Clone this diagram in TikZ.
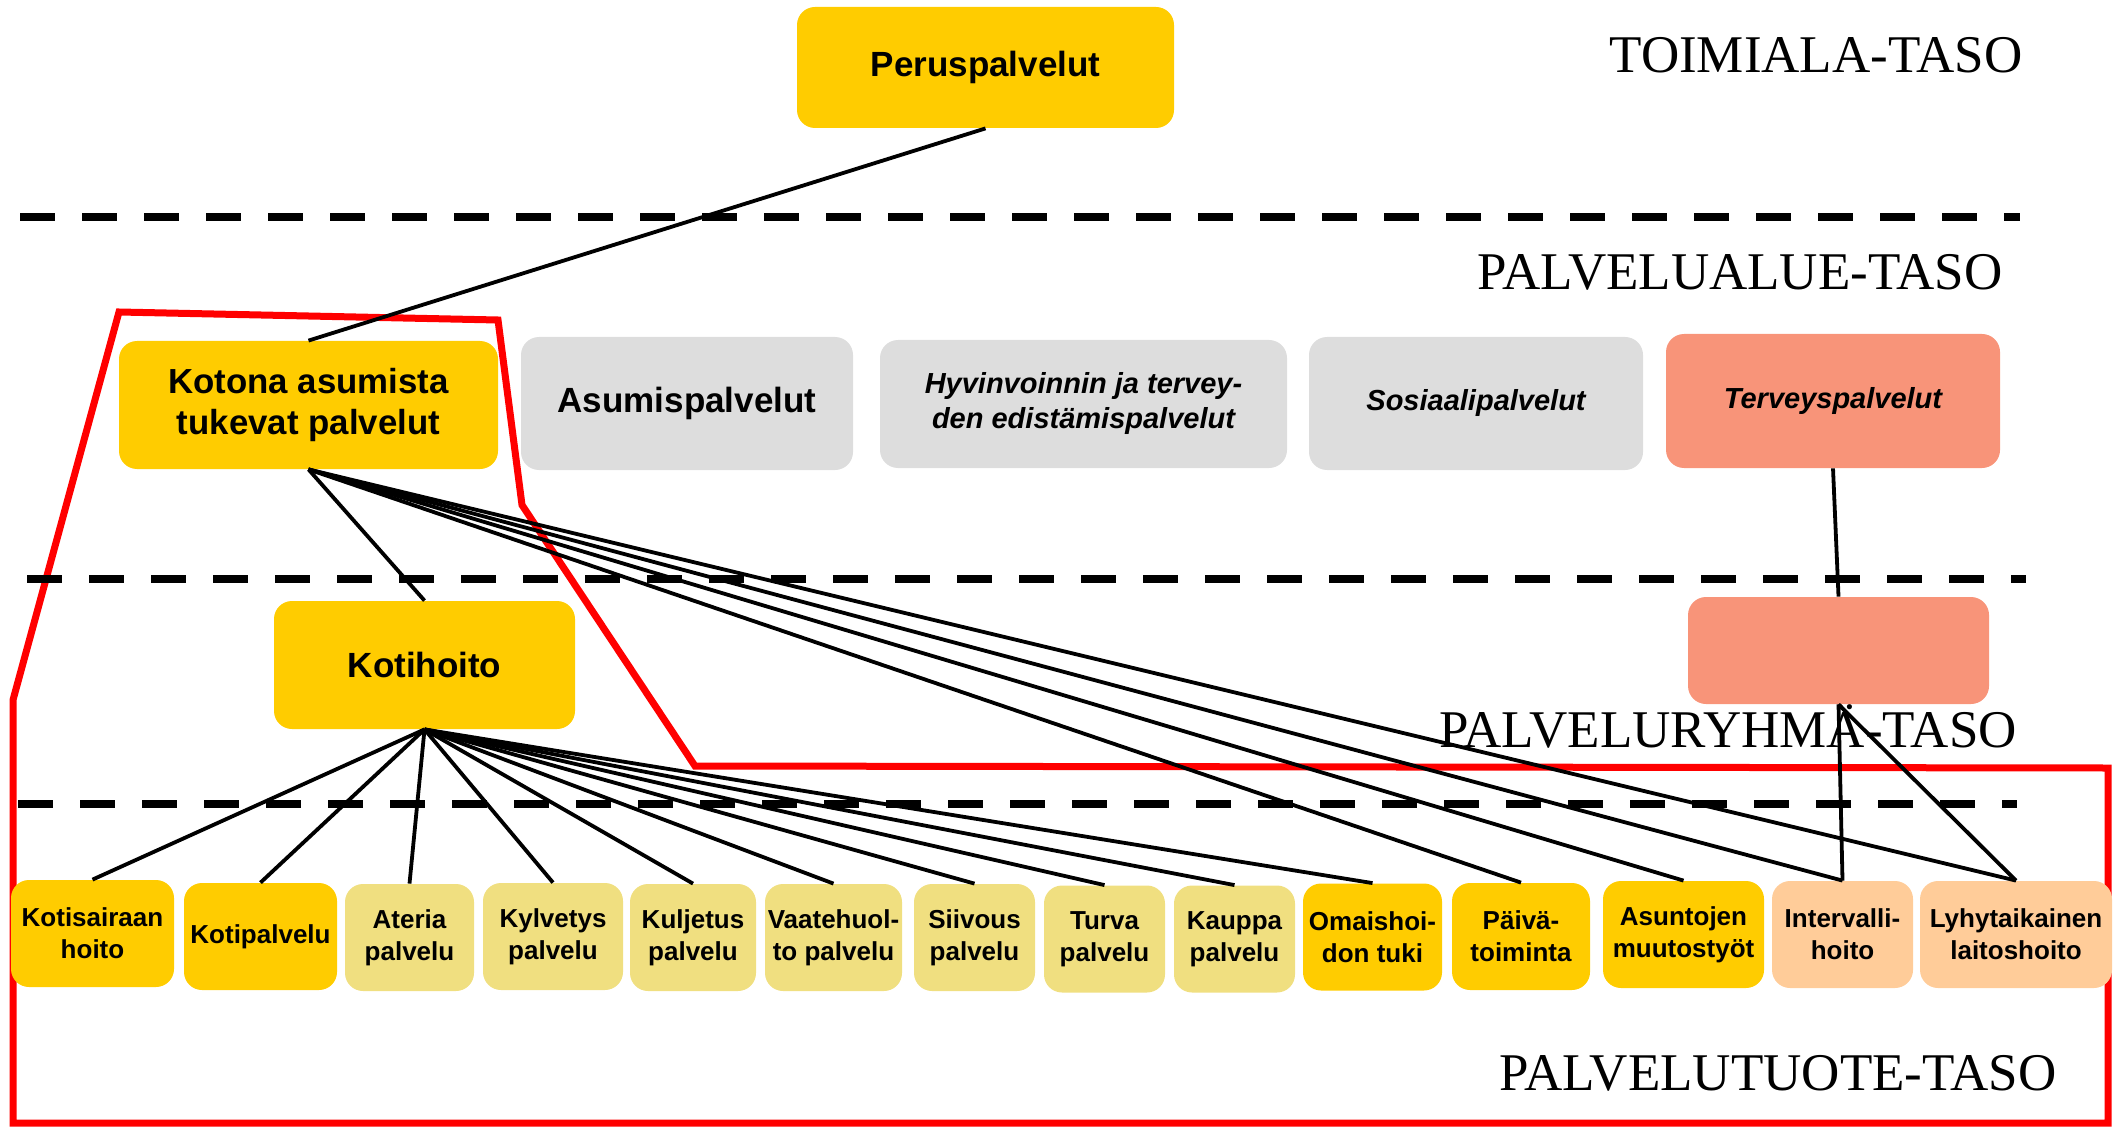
\documentclass[tikz,border=0pt]{standalone}
\usepackage{fontspec}
\setmainfont{Liberation Serif}
\newfontfamily\arialf{Liberation Sans}
\definecolor{gold}{HTML}{FFCC00}
\definecolor{khaki}{HTML}{F0DF80}
\definecolor{greybox}{HTML}{DDDDDD}
\definecolor{salmon}{HTML}{F89479}
\definecolor{peach}{HTML}{FFCC99}
\definecolor{redline}{HTML}{FF0000}
\begin{document}
\begin{tikzpicture}[x=0.5pt,y=-0.5pt,
  box/.style={draw=none, rounded corners=9pt, align=center, inner sep=0pt},
  sz/.style 2 args={minimum width=#1, minimum height=#2},
  bigbold/.style={box, font=\arialf\bfseries\fontsize{17.5pt}{20pt}\selectfont},
  midbold/.style={box, font=\arialf\bfseries\fontsize{17.4pt}{20.5pt}\selectfont},
  italbold/.style={box, font=\arialf\bfseries\itshape\fontsize{14.5pt}{17.5pt}\selectfont},
  small/.style={box, minimum height=53.5pt, font=\arialf\bfseries\fontsize{13pt}{16pt}\selectfont},
  level/.style={anchor=base, font=\fontsize{26.5pt}{31pt}\selectfont},
  conn/.style={draw=black, line width=1.9pt},
  sep/.style={draw=black, line width=4pt, dash pattern=on 17.5pt off 13.5pt},
  region/.style={draw=redline, line width=3.5pt, line join=miter}
]
\useasboundingbox (0,0) rectangle (2128,1128);

% level labels
\node[level] (l1) at (1816,73) {TOIMIALA-TASO};
\node[level] (l2) at (1740,290) {PALVELUALUE-TASO};
\node[level] (l3) at (1728,747) {PALVELURYHMÄ-TASO};
\node[level] (l4) at (1778,1090) {PALVELUTUOTE-TASO};

% red region
\draw[region] (119,312) -- (498,320) -- (522,505) -- (695,766) -- (2108,768)
  -- (2108,1123) -- (13,1123) -- (13,700) -- cycle;

% separators
\draw[sep] (20,217) -- (2020,217);
\draw[sep] (27,579) -- (2026,579);
\draw[sep] (18,804) -- (2017,804);

% top levels
\node[bigbold, fill=gold, sz={188.5pt}{60.5pt}] (peru) at (985.5,67.5) {Peruspalvelut};
\node[midbold, fill=gold, sz={189.5pt}{64pt}] (kotona) at (308.5,405) {Kotona asumista\\tukevat palvelut};
\node[bigbold, fill=greybox, sz={166pt}{66.5pt}] (asumis) at (687,403.5) {Asumispalvelut};
\node[italbold, fill=greybox, sz={203.5pt}{64pt}] (hyvin) at (1083.5,404) {Hyvinvoinnin ja tervey-\\den edistämispalvelut};
\node[italbold, fill=greybox, sz={167pt}{66.5pt}] (sosiaali) at (1476,403.5) {Sosiaalipalvelut};
\node[italbold, fill=salmon, sz={167pt}{67pt}] (terveys) at (1833,401) {Terveyspalvelut};
\node[bigbold, fill=gold, sz={150.5pt}{64pt}] (kotihoito) at (424.5,665) {Kotihoito};
\node[box, fill=salmon, sz={150.5pt}{53.5pt}] (ryhma) at (1838.5,650.5) {};

% bottom products
\node[small, fill=gold, minimum width=81.5pt] (kotisair) at (92.5,933.5) {Kotisairaan\\hoito};
\node[small, fill=gold, minimum width=76.5pt] (kotipal) at (260.5,936.5) {Kotipalvelu};
\node[small, fill=khaki, minimum width=64.5pt] (ateria) at (409.5,937.5) {Ateria\\palvelu};
\node[small, fill=khaki, minimum width=70pt] (kylvetys) at (553,936.5) {Kylvetys\\palvelu};
\node[small, fill=khaki, minimum width=63pt] (kuljetus) at (693,937.5) {Kuljetus\\palvelu};
\node[small, fill=khaki, minimum width=68.5pt] (vaate) at (833.5,937.5) {Vaatehuol-\\to palvelu};
\node[small, fill=khaki, minimum width=60.5pt] (siivous) at (974.5,937.5) {Siivous\\palvelu};
\node[small, fill=khaki, minimum width=60.5pt] (turva) at (1104.5,939) {Turva\\palvelu};
\node[small, fill=khaki, minimum width=60.5pt] (kauppa) at (1234.5,939) {Kauppa\\palvelu};
\node[small, fill=gold, minimum width=69.5pt] (omais) at (1372.5,937) {Omaishoi-\\don tuki};
\node[small, fill=gold, minimum width=69pt] (paiva) at (1521,936.5) {Päivä-\\toiminta};
\node[small, fill=gold, minimum width=80.5pt] (asunto) at (1683.5,934.5) {Asuntojen\\muutostyöt};
\node[small, fill=peach, minimum width=70.5pt] (interv) at (1842.5,934.5) {Intervalli-\\hoito};
\node[small, fill=peach, minimum width=96pt] (lyhyt) at (2016,934.5) {Lyhytaikainen\\laitoshoito};

% connectors
\draw[conn] (peru.south) -- (kotona.north);
\draw[conn] (kotona.south) -- (kotihoito.north);
\foreach \t in {paiva,asunto,interv,lyhyt}
  \draw[conn] (kotona.south) -- (\t.north);
\foreach \t in {kotisair,kotipal,ateria,kylvetys,kuljetus,vaate,siivous,turva,kauppa,omais}
  \draw[conn] (kotihoito.south) -- (\t.north);
\draw[conn] (terveys.south) -- (ryhma.north);
\draw[conn] (ryhma.south) -- (interv.north);
\draw[conn] (ryhma.south) -- (lyhyt.north);
\end{tikzpicture}
\end{document}
